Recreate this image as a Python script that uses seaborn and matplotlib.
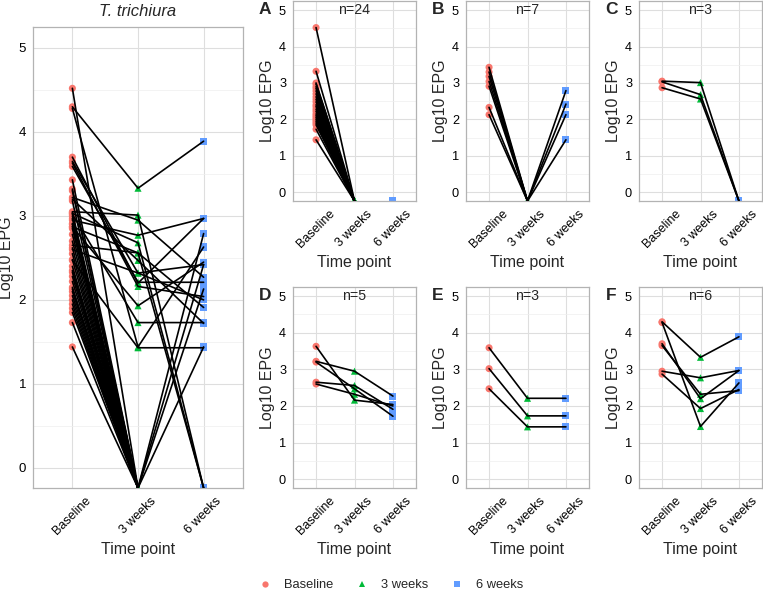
'''
Paired log10 EPG trajectories for T. trichiura, all subjects and by response group.
'''
import numpy as np
import pandas as pd
import matplotlib
matplotlib.use('Agg')
import matplotlib.pyplot as plt
from matplotlib.lines import Line2D
import seaborn as sns

Z = -np.inf   # 0 EPG (log10 -> -inf), drawn on the panel floor
NA = np.nan   # not measured

time_labels = ['Baseline', '3 weeks', '6 weeks']
time_colors = ['#F8766D', '#00BA38', '#619CFF']
time_markers = ['o', '^', 's']

# group A: cleared at 3 and 6 weeks
A_base = [4.52, 3.32, 3.00, 2.97, 2.90, 2.85, 2.78, 2.70, 2.62, 2.55, 2.48, 2.40,
          2.35, 2.28, 2.22, 2.15, 2.10, 2.05, 2.00, 1.95, 1.90, 1.85, 1.73, 1.44]
A_3w = [Z, Z, Z, Z, Z, Z, Z, Z, Z, Z, Z, Z, Z, Z, Z, Z, Z, Z, Z, Z, Z, Z, Z, Z]
A_6w = [Z, Z, Z, Z, Z, Z, Z, Z, Z, Z, Z, Z, Z, Z, Z, Z, Z, Z, Z, Z, Z, Z, Z, Z]
# group B: cleared at 3 weeks, positive again at 6 weeks
B_base = [3.43, 3.30, 3.18, 3.04, 2.91, 2.33, 2.13]
B_3w = [Z, Z, Z, Z, Z, Z, Z]
B_6w = [2.79, 2.42, NA, NA, 2.13, NA, 1.44]
# group C
C_base = [3.05, 3.03, 2.87]
C_3w = [3.01, 2.68, 2.56]
C_6w = [Z, Z, Z]
# group D
D_base = [3.63, 3.22, 3.20, 2.65, 2.60]
D_3w = [2.16, 2.95, 2.47, 2.56, 2.32]
D_6w = [2.04, 2.27, 1.72, 1.91, 2.00]
# group E
E_base = [3.59, 3.02, 2.47]
E_3w = [2.21, 1.73, 1.43]
E_6w = [2.21, 1.73, 1.43]
# group F
F_base = [4.30, 4.28, 3.70, 3.65, 2.95, 2.87]
F_3w = [3.33, 1.44, 2.20, 2.32, 2.77, 1.93]
F_6w = [3.89, 2.63, 2.97, 2.42, 2.97, 2.45]

groups = {
    'A': (A_base, A_3w, A_6w),
    'B': (B_base, B_3w, B_6w),
    'C': (C_base, C_3w, C_6w),
    'D': (D_base, D_3w, D_6w),
    'E': (E_base, E_3w, E_6w),
    'F': (F_base, F_3w, F_6w),
}

YLIM = (-0.24, 5.25)
XLIM = (-0.6, 2.6)

rows = []
for g, series in groups.items():
    for t, vals in enumerate(series):
        for i, v in enumerate(vals):
            rows.append({'group': g, 'subject': f'{g}{i}', 'pos': t,
                         'time': time_labels[t], 'logepg': v})
df = pd.DataFrame(rows)
df['plot_y'] = df['logepg'].replace(-np.inf, YLIM[0])

sns.set_theme(style='white')
plt.rcParams['font.family'] = ['Liberation Sans', 'DejaVu Sans']

W, H = 763, 592
fig = plt.figure(figsize=(W / 100, H / 100), dpi=100)


def box(x0, y0, x1, y1):
    return [x0 / W, 1 - y1 / H, (x1 - x0) / W, (y1 - y0) / H]


def draw_panel(ax, d, big=False):
    d = d.sort_values(['subject', 'pos'])
    pts = d.dropna(subset=['logepg'])
    # no line along the floor between two zero counts
    prev = pts.groupby('subject')['logepg'].shift(1)
    lines = pts[~((pts['logepg'] == -np.inf) & (prev == -np.inf))]

    sns.scatterplot(data=pts, x='pos', y='plot_y', hue='time', style='time',
                    hue_order=time_labels, style_order=time_labels,
                    palette=time_colors, markers=time_markers,
                    s=26, linewidth=0, legend=False, ax=ax, zorder=2)
    sns.lineplot(data=lines, x='pos', y='plot_y', units='subject',
                 estimator=None, color='black', lw=1.2, legend=False,
                 ax=ax, zorder=3)

    ax.set_xlim(XLIM)
    ax.set_ylim(YLIM)
    ax.set_xticks([0, 1, 2])
    ax.set_xticklabels(time_labels, rotation=45, ha='center', va='top',
                       fontsize=9, color='black')
    ax.set_yticks([0, 1, 2, 3, 4, 5])
    ax.set_yticks([0.5, 1.5, 2.5, 3.5, 4.5], minor=True)
    ax.tick_params(axis='y', labelsize=9.5 if big else 9.2, colors='black')
    ax.tick_params(which='both', length=3, width=0.8, color='#B3B3B3', pad=2)
    ax.tick_params(which='minor', length=0)
    ax.grid(which='major', color='#DEDEDE', linewidth=0.8)
    ax.grid(which='minor', axis='y', color='#EEEEEE', linewidth=0.5)
    ax.set_axisbelow(True)
    for sp in ax.spines.values():
        sp.set_color('#B3B3B3')
        sp.set_linewidth(0.9)
    ax.set_xlabel('Time point', fontsize=11.5, labelpad=3)
    ax.set_ylabel('Log10 EPG', fontsize=11.5, labelpad=3)


# all subjects
ax0 = fig.add_axes(box(33, 27, 243, 488))
draw_panel(ax0, df, big=True)
ax0.set_title('T. trichiura', fontsize=12, style='italic', pad=8)

# per-group panels
panel_boxes = {
    'A': (293, 1, 416, 201), 'B': (466, 1, 589, 201), 'C': (639, 1, 762, 201),
    'D': (293, 287, 416, 488), 'E': (466, 287, 589, 488), 'F': (639, 287, 762, 488),
}
for g, (x0, y0, x1, y1) in panel_boxes.items():
    ax = fig.add_axes(box(x0, y0, x1, y1))
    d = df[df['group'] == g]
    draw_panel(ax, d)
    ax.text(1, 5, f"n={d['subject'].nunique()}", ha='center', va='center',
            fontsize=10.2)
    fig.text((x0 - 28) / W, 1 - (y0 + 9) / H, g, fontsize=12.5,
             fontweight='bold', ha='center', va='center')

handles = [Line2D([], [], marker=m, color=c, linestyle='none', markersize=4.5,
                  markeredgewidth=0, label=l)
           for m, c, l in zip(time_markers, time_colors, time_labels)]
fig.legend(handles=handles, loc='center', bbox_to_anchor=(390 / W, 1 - 585 / H),
           ncol=3, frameon=False, fontsize=9.3, handletextpad=0.9,
           columnspacing=1.6, handlelength=1.2)

fig.savefig('out.png', dpi=100)
